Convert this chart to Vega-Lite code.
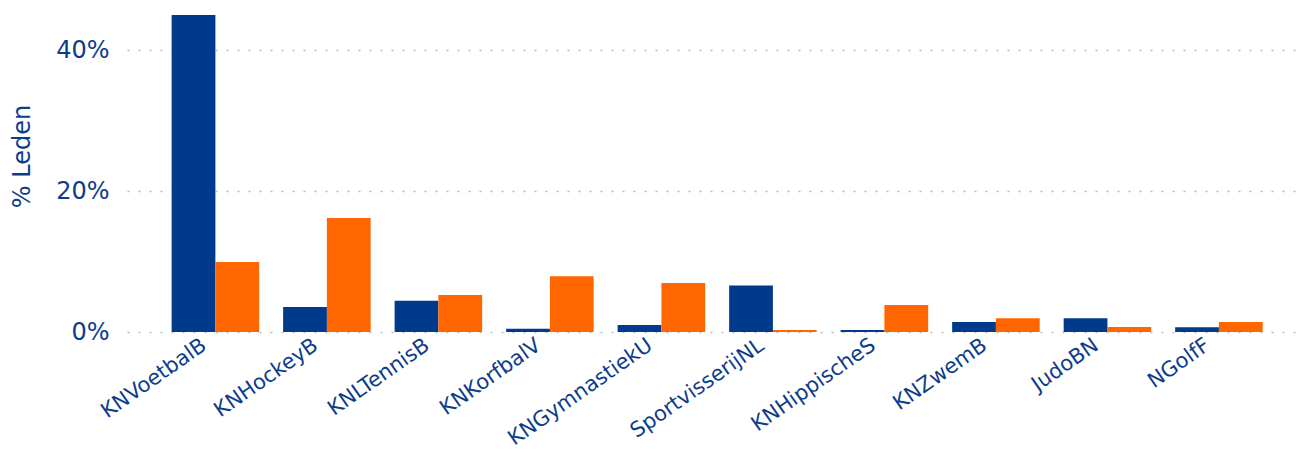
{
  "$schema": "https://vega.github.io/schema/vega-lite/v6.json",
  "autosize": "none",
  "padding": {"left": 127, "top": 15, "right": 5, "bottom": 121},
  "width": 1168,
  "height": 317,
  "background": "white",
  "config": {
    "view": {"stroke": null},
    "font": "DejaVu Sans"
  },
  "data": {
    "values": [
      {"bond": "KNVoetbalB", "groep": "a", "pct": 47},
      {"bond": "KNVoetbalB", "groep": "b", "pct": 9.95},
      {"bond": "KNHockeyB", "groep": "a", "pct": 3.55},
      {"bond": "KNHockeyB", "groep": "b", "pct": 16.2},
      {"bond": "KNLTennisB", "groep": "a", "pct": 4.45},
      {"bond": "KNLTennisB", "groep": "b", "pct": 5.25},
      {"bond": "KNKorfbalV", "groep": "a", "pct": 0.47},
      {"bond": "KNKorfbalV", "groep": "b", "pct": 7.9},
      {"bond": "KNGymnastiekU", "groep": "a", "pct": 1.0},
      {"bond": "KNGymnastiekU", "groep": "b", "pct": 6.95},
      {"bond": "SportvisserijNL", "groep": "a", "pct": 6.6},
      {"bond": "SportvisserijNL", "groep": "b", "pct": 0.28},
      {"bond": "KNHippischeS", "groep": "a", "pct": 0.28},
      {"bond": "KNHippischeS", "groep": "b", "pct": 3.85},
      {"bond": "KNZwemB", "groep": "a", "pct": 1.42},
      {"bond": "KNZwemB", "groep": "b", "pct": 1.95},
      {"bond": "JudoBN", "groep": "a", "pct": 1.95},
      {"bond": "JudoBN", "groep": "b", "pct": 0.71},
      {"bond": "NGolfF", "groep": "a", "pct": 0.67},
      {"bond": "NGolfF", "groep": "b", "pct": 1.42}
    ]
  },
  "mark": {"type": "bar", "clip": true},
  "encoding": {
    "x": {
      "field": "bond",
      "type": "nominal",
      "sort": null,
      "scale": {"paddingInner": 0.215, "paddingOuter": 0.345, "align": 0.58},
      "axis": {
        "title": null,
        "labelAngle": -35,
        "labelAlign": "right",
        "labelBaseline": "middle",
        "labelFontSize": 21,
        "labelColor": "#0D3C8C",
        "labelPadding": 11,
        "labelOffset": -11,
        "ticks": false,
        "domain": false,
        "grid": false
      }
    },
    "xOffset": {
      "field": "groep",
      "type": "nominal",
      "scale": {"paddingInner": 0, "paddingOuter": 0}
    },
    "y": {
      "field": "pct",
      "type": "quantitative",
      "scale": {"domain": [0, 45], "nice": false},
      "axis": {
        "title": "% Leden",
        "titleFontSize": 24,
        "titleFontWeight": "normal",
        "titleColor": "#0D3C8C",
        "titlePadding": 21,
        "titleY": 141,
        "values": [0, 20, 40],
        "labelExpr": "datum.value + '%'",
        "labelFontSize": 24,
        "labelColor": "#0D3C8C",
        "labelPadding": 18,
        "ticks": false,
        "domain": false,
        "grid": true,
        "gridColor": "#bbbbbb",
        "gridDash": [2, 9],
        "gridWidth": 1.5
      }
    },
    "color": {
      "field": "groep",
      "type": "nominal",
      "scale": {"domain": ["a", "b"], "range": ["#003A8C", "#FF6600"]},
      "legend": null
    }
  }
}
